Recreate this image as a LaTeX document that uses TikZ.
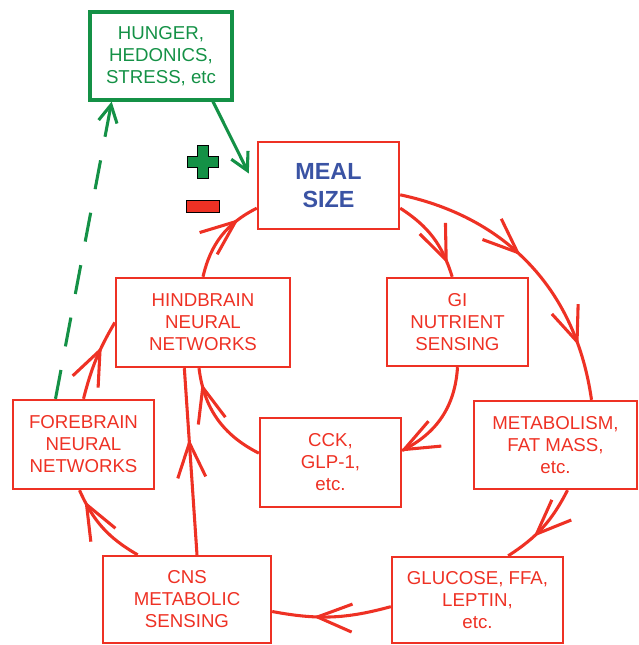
\documentclass[tikz,border=0pt]{standalone}
\usepackage{tikz}
\usetikzlibrary{arrows.meta,decorations.markings}
\usepackage{fontspec}
\setmainfont{Liberation Sans}
\definecolor{loopred}{RGB}{238,49,36}
\definecolor{cuegreen}{RGB}{20,145,70}
\definecolor{mealblue}{RGB}{58,83,164}
\newcommand{\chevron}{\draw[loopred,line width=2.3pt] (-26pt,10.5pt) -- (0pt,0pt) -- (-26pt,-10.5pt);}

\begin{document}
\begin{tikzpicture}[x=0.75pt,y=-0.75pt,
  box/.style={draw=loopred,line width=1.8pt,text=loopred,align=center,inner sep=0pt,
    font=\fontsize{14}{16.5}\selectfont,minimum width=105.75pt,minimum height=66pt},
  flow/.style={draw=loopred,line width=2.3pt},
  cue/.style={draw=cuegreen,line width=2.3pt},
  gchev/.tip={Straight Barb[length=13pt,width=14pt,line width=2.3pt]},
  midarrow/.style={decoration={markings,mark=at position #1 with {\chevron}},postaction={decorate}}]
\useasboundingbox (0,0) rectangle (638,645);

\node[box,draw=cuegreen,text=cuegreen,line width=2.4pt,minimum width=106.5pt] (cues) at (161,56) {HUNGER,\\HEDONICS,\\STRESS, etc};
\node[box,text=mealblue,font=\bfseries\fontsize{17.5}{21}\selectfont,minimum height=65.25pt] (meal) at (328.5,185.5) {MEAL\\SIZE};
\node[box] (gi) at (457.5,322) {GI\\NUTRIENT\\SENSING};
\node[box,minimum width=122.25pt] (metab) at (555.5,445) {METABOLISM,\\FAT MASS,\\etc.};
\node[box,minimum width=128.25pt,minimum height=64.5pt] (glucose) at (477.5,600) {GLUCOSE, FFA,\\LEPTIN,\\etc.};
\node[box,minimum height=66.75pt] (cck) at (330.5,462.5) {CCK,\\GLP-1,\\etc.};
\node[box,minimum width=126pt,minimum height=65.25pt] (cns) at (187,599.5) {CNS\\METABOLIC\\SENSING};
\node[box,minimum height=66.75pt] (fore) at (83.5,444.5) {FOREBRAIN\\NEURAL\\NETWORKS};
\node[box,minimum width=130.5pt,minimum height=66.75pt] (hind) at (203,322.5) {HINDBRAIN\\NEURAL\\NETWORKS};

% plus and minus
\filldraw[fill=cuegreen,draw=black,line width=0.6pt] (197.5,145.5) -- (208.5,145.5) -- (208.5,156.5) -- (218.5,156.5)
  -- (218.5,167.5) -- (208.5,167.5) -- (208.5,178.5) -- (197.5,178.5) -- (197.5,167.5) -- (187.5,167.5)
  -- (187.5,156.5) -- (197.5,156.5) -- cycle;
\filldraw[fill=loopred,draw=black,line width=0.6pt] (186,200) rectangle (219,212);

% outer loop
\draw[flow,decoration={markings,mark=at position 0.44 with {\chevron},mark=at position 0.8 with {\chevron}},postaction={decorate}]
  ([yshift=-7pt]meal.east) to[bend left=35] ([xshift=27pt]metab.north);
\draw[flow,midarrow=0.6] ([xshift=9pt]metab.south) to[bend left=15] ([xshift=23pt]glucose.north);
\draw[flow,midarrow=0.62] ([yshift=-5pt]glucose.west) to[bend left=13] ([yshift=-9pt]cns.east);
\draw[flow,midarrow=0.82] ([xshift=-37pt]cns.north) to[bend left=18] ([xshift=-3pt]fore.south);
\draw[flow,midarrow=0.62] (fore.north) to[bend left=8] (hind.west);
\draw[flow,midarrow=0.72] (hind.north) to[bend left=25] ([yshift=-17pt]meal.west);
\draw[flow,midarrow=0.6] ([xshift=7.5pt]cns.north) -- ([xshift=-14pt]hind.south);

% inner loop
\draw[flow,midarrow=0.8] ([yshift=-17pt]meal.east) to[bend left=20] ([xshift=-4pt]gi.north);
\draw[flow,midarrow=0.98] (gi.south) to[bend left=30] ([yshift=9pt]cck.east);
\draw[flow,midarrow=0.82] ([yshift=7pt]cck.west) to[bend left=28] ([xshift=-3pt]hind.south);

% green cues
\draw[cue,dash pattern=on 22pt off 18pt,-gchev] ([xshift=-21pt]fore.north) -- ([xshift=-37pt]cues.south);
\draw[cue,-gchev] ([xshift=39pt]cues.south) -- ([xshift=-6pt,yshift=9pt]meal.west);
\end{tikzpicture}
\end{document}
